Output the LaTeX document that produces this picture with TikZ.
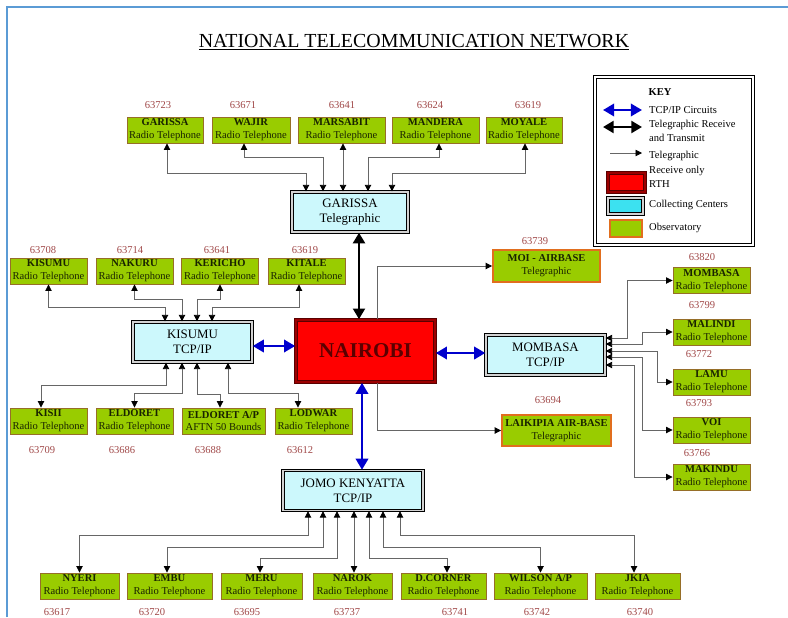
\documentclass[tikz,border=0pt]{standalone}
\usepackage{fontspec}
\setmainfont{Liberation Serif}
\usetikzlibrary{calc,arrows.meta}

\definecolor{obsgreen}{RGB}{153,204,0}
\definecolor{obsedge}{RGB}{150,110,40}
\definecolor{teleedge}{RGB}{225,110,30}
\definecolor{hubfill}{RGB}{204,248,252}
\definecolor{keycyan}{RGB}{60,225,240}
\definecolor{rthedge}{RGB}{90,0,0}
\definecolor{numred}{RGB}{160,72,72}
\definecolor{tcpblue}{RGB}{0,0,205}
\definecolor{frameblue}{RGB}{91,155,213}
\definecolor{stntext}{RGB}{25,35,0}

\newcommand\obsfont{\fontsize{9}{11}\selectfont}
\newcommand\hubfont{\fontsize{11}{13}\selectfont}
\newcommand\keyfont{\fontsize{9}{12.5}\selectfont}

\begin{document}
\begin{tikzpicture}[x={(0.03cm,0cm)},y={(0cm,-0.03cm)},
	obs/.style={draw=obsedge,line width=0.8pt,fill=obsgreen,align=center,inner sep=0pt,
		minimum width=2.31cm,minimum height=0.78cm,font=\obsfont,text=stntext},
	obsT/.style={obs,draw=teleedge,line width=1.6pt},
	num/.style={text=numred,font=\fontsize{9}{10}\selectfont,inner sep=0pt},
	hub/.style={draw=black,line width=1.2pt,double=gray!35,double distance=0.9pt,fill=hubfill,
		align=center,inner sep=0pt,minimum height=1.2cm,font=\hubfont},
	rth/.style={draw=rthedge,line width=1.4pt,double=rthedge!60!red,double distance=1.2pt,fill=red,inner sep=0pt},
	keybox/.style={draw=black,line width=1.3pt,double=white,double distance=1.2pt,inner sep=0pt},
	keytxt/.style={anchor=west,align=left,inner sep=0pt,font=\keyfont},
	tele/.style={draw=black!60,line width=0.7pt,
		arrows={Triangle[length=5.5pt,width=5.5pt,black]-Triangle[length=5.5pt,width=5.5pt,black]}},
	telein/.style={draw=black!60,line width=0.7pt,arrows={-Triangle[length=5.5pt,width=5.5pt,black]}},
	telebi/.style={draw=black,line width=2.4pt,arrows={Triangle[length=9pt,width=10pt]-Triangle[length=9pt,width=10pt]}},
	tcp/.style={draw=tcpblue,line width=2.2pt,arrows={Triangle[length=9.5pt,width=10.5pt]-Triangle[length=9.5pt,width=10.5pt]}}]
	\useasboundingbox (0,0) rectangle (788,617);
	\draw[frameblue,line width=1.8pt] (7,617) -- (7,7) -- (788,7);
	\node[anchor=base,font=\fontsize{17}{20}\selectfont] (title) at (414,47) {\underline{NATIONAL TELECOMMUNICATION NETWORK}};

	% collecting centres and the RTH
	\node[rth,minimum width=139*0.03cm,minimum height=62*0.03cm,font=\fontsize{18}{20}\selectfont\bfseries,text=rthedge] (nairobi) at (365.5,351) {NAIROBI};
	\node[hub,minimum width=116*0.03cm] (garT) at (350,212) {GARISSA\\Telegraphic};
	\node[hub,minimum width=119*0.03cm] (kisumu) at (192.5,342) {KISUMU\\TCP/IP};
	\node[hub,minimum width=119*0.03cm] (mombasa) at (545.5,355) {MOMBASA\\TCP/IP};
	\node[hub,minimum width=140*0.03cm] (jomo) at (353,490.5) {JOMO KENYATTA\\TCP/IP};

	% observatories round Garissa
	\foreach \id/\x/\w/\nx/\num/\stn in {oGar/165/76/158/63723/GARISSA,oWaj/251/78/243/63671/WAJIR,
		oMar/341.5/87/342/63641/MARSABIT,oMan/435.5/87/430/63624/MANDERA,oMoy/524/76/528/63619/MOYALE}{
		\node[obs,minimum width=\w*0.03cm] (\id) at (\x,130) {\textbf{\stn}\\Radio Telephone};
		\node[num] (n\id) at (\nx,105) {\num};
	}
	% observatories round Kisumu
	\foreach \id/\x/\nx/\num/\stn in {oKsm/48.5/43/63708/KISUMU,oNak/134.5/130/63714/NAKURU,
		oKer/220/217/63641/KERICHO,oKit/306.5/305/63619/KITALE}{
		\node[obs] (\id) at (\x,271) {\textbf{\stn}\\Radio Telephone};
		\node[num] (n\id) at (\nx,250) {\num};
	}
	\foreach \id/\x/\w/\nx/\num/\stn/\sub in {oKsi/48.5/77/42/63709/KISII/Radio Telephone,
		oEld/134.5/77/122/63686/ELDORET/Radio Telephone,oEap/223.5/83/208/63688/{ELDORET A/P}/AFTN 50 Bounds,
		oLod/313.5/77/300/63612/LODWAR/Radio Telephone}{
		\node[obs,minimum width=\w*0.03cm] (\id) at (\x,421) {\textbf{\stn}\\\sub};
		\node[num] (n\id) at (\nx,450) {\num};
	}
	% observatories round Jomo Kenyatta
	\foreach \id/\x/\w/\nx/\num/\stn in {oNye/79.5/79/57/63617/NYERI,oEmb/169.5/85/152/63720/EMBU,
		oMer/261.5/81/247/63695/MERU,oNar/352.5/79/347/63737/NAROK,oDco/443.5/85/455/63741/D.CORNER,
		oWil/540.5/93/537/63742/{WILSON A/P},oJki/637.5/85/640/63740/JKIA}{
		\node[obs,minimum width=\w*0.03cm] (\id) at (\x,586) {\textbf{\stn}\\Radio Telephone};
		\node[num] (n\id) at (\nx,612) {\num};
	}
	% observatories round Mombasa
	\foreach \id/\y/\nx/\ny/\num/\stn in {oMom/280.5/702/257/63820/MOMBASA,oMal/332/702/305/63799/MALINDI,
		oLam/382/699/354/63772/LAMU,oVoi/430/699/403/63793/VOI,oMak/477/697/453/63766/MAKINDU}{
		\node[obs] (\id) at (711.5,\y) {\textbf{\stn}\\Radio Telephone};
		\node[num] (n\id) at (\nx,\ny) {\num};
	}
	% telegraphic air bases
	\node[obsT,minimum width=107*0.03cm,minimum height=32*0.03cm] (oMoi) at (546.5,266) {\textbf{MOI - AIRBASE}\\Telegraphic};
	\node[num] (noMoi) at (535,241) {63739};
	\node[obsT,minimum width=109*0.03cm,minimum height=31*0.03cm] (oLai) at (556.5,430.5) {\textbf{LAIKIPIA AIR-BASE}\\Telegraphic};
	\node[num] (noLai) at (548,400) {63694};

	% links to Garissa
	\draw[tele] ($(oGar.south)+(2,0)$) -- ++(0,30) -| ($(garT.north)+(-44,0)$);
	\draw[tele] ($(oWaj.south)+(-7,0)$) -- ++(0,14) -| ($(garT.north)+(-27,0)$);
	\draw[tele] ($(oMar.south)+(1.5,0)$) -- ($(garT.north)+(-7,0)$);
	\draw[tele] ($(oMan.south)+(3.5,0)$) -- ++(0,14) -| ($(garT.north)+(18,0)$);
	\draw[tele] ($(oMoy.south)+(1,0)$) -- ++(0,30) -| ($(garT.north)+(42,0)$);
	% links to Kisumu
	\draw[tele] (oKsm.south) -- ++(0,23) -| ($(kisumu.north)+(-27.5,0)$);
	\draw[tele] (oNak.south) -- ++(0,15) -| ($(kisumu.north)+(-10.5,0)$);
	\draw[tele] (oKer.south) -- ++(0,15) -| ($(kisumu.north)+(4.5,0)$);
	\draw[tele] ($(oKit.south)+(-7.5,0)$) -- ++(0,23) -| ($(kisumu.north)+(19.5,0)$);
	\draw[tele] ($(kisumu.south)+(-26.5,0)$) -- ++(0,23) -| ($(oKsi.north)+(-7.5,0)$);
	\draw[tele] ($(kisumu.south)+(-10.5,0)$) -- ++(0,31) -| (oEld.north);
	\draw[tele] ($(kisumu.south)+(4.5,0)$) -- ++(0,32) -| ($(oEap.north)+(-3.5,0)$);
	\draw[tele] ($(kisumu.south)+(35.5,0)$) -- ++(0,31) -| ($(oLod.north)+(-15.5,0)$);
	% links to Jomo Kenyatta
	\draw[tele] ($(jomo.south)+(-45,0)$) -- ++(0,24) -| (oNye.north);
	\draw[tele] ($(jomo.south)+(-30,0)$) -- ++(0,36) -| ($(oEmb.north)+(-2.5,0)$);
	\draw[tele] ($(jomo.south)+(-16,0)$) -- ++(0,47) -| ($(oMer.north)+(-1.5,0)$);
	\draw[tele] ($(jomo.south)+(1,0)$) -- ($(oNar.north)+(1.5,0)$);
	\draw[tele] ($(jomo.south)+(16,0)$) -- ++(0,47) -| ($(oDco.north)+(3.5,0)$);
	\draw[tele] ($(jomo.south)+(30,0)$) -- ++(0,36) -| (oWil.north);
	\draw[tele] ($(jomo.south)+(47,0)$) -- ++(0,24) -| ($(oJki.north)+(-3.5,0)$);
	% links to Mombasa
	\draw[tele] ($(mombasa.east)+(0,-17)$) -- ++(22,0) |- (oMom.west);
	\draw[tele] ($(mombasa.east)+(0,-11)$) -- ++(37,0) |- (oMal.west);
	\draw[tele] ($(mombasa.east)+(0,-4)$) -- ++(52,0) |- (oLam.west);
	\draw[tele] ($(mombasa.east)+(0,2)$) -- ++(37,0) |- (oVoi.west);
	\draw[tele] ($(mombasa.east)+(0,10)$) -- ++(29,0) |- (oMak.west);
	% links to Nairobi
	\draw[telein] ($(nairobi.north)+(11.5,0)$) |- (oMoi.west);
	\draw[telein] ($(nairobi.south)+(11.5,0)$) |- (oLai.west);
	\draw[telebi] ($(garT.south)+(9,0)$) -- ($(nairobi.north)+(-6.5,0)$);
	\draw[tcp] ($(kisumu.east)+(0,4)$) -- ($(nairobi.west)+(0,-5)$);
	\draw[tcp] ($(nairobi.east)+(0,2)$) -- ($(mombasa.west)+(0,-2)$);
	\draw[tcp] ($(nairobi.south)+(-3.5,0)$) -- ($(jomo.north)+(9,0)$);

	% key
	\node[keybox,minimum width=158*0.03cm,minimum height=168*0.03cm] (key) at (674,161) {};
	\node[font=\keyfont\bfseries,inner sep=0pt] (kHead) at (660,92) {KEY};
	\draw[tcp] (603,110) -- (642,110);
	\node[keytxt] (kTcp) at (649,110) {TCP/IP Circuits};
	\draw[telebi] (603,127) -- (642,127);
	\node[keytxt] (kTel) at (649,131) {Telegraphic Receive\\and Transmit};
	\draw[telein] (610,153) -- (642,153);
	\node[keytxt] (kRcv) at (649,163.5) {Telegraphic\\Receive only};
	\node[rth,minimum width=37*0.03cm,minimum height=19*0.03cm] (kRth) at (626.5,182.5) {};
	\node[keytxt] (kRthT) at (649,184) {RTH};
	\node[hub,fill=keycyan,minimum width=35*0.03cm,minimum height=16*0.03cm] (kHub) at (625.5,206) {};
	\node[keytxt] (kHubT) at (649,205) {Collecting Centers};
	\node[obsT,line width=1pt,minimum width=32*0.03cm,minimum height=17*0.03cm] (kObs) at (626,228.5) {};
	\node[keytxt] (kObsT) at (649,228) {Observatory};
\end{tikzpicture}
\end{document}
